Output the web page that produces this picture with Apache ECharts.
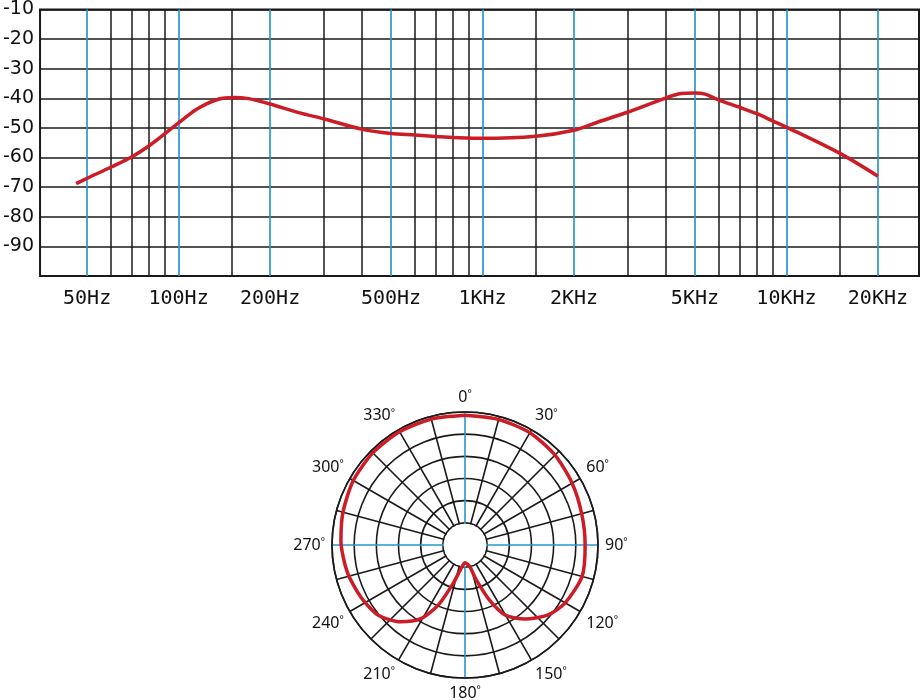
<!DOCTYPE html>
<html>
<head>
<meta charset="utf-8">
<script src="https://cdn.jsdelivr.net/npm/echarts@6/dist/echarts.min.js"></script>
<style>
html,body{margin:0;padding:0;background:#fff;}
#chart{width:921px;height:700px;}
</style>
</head>
<body>
<div id="chart"></div>
<script>
// ---- Frequency response data ----
var freqHz = [46, 50, 60, 70, 80, 90, 100, 115, 135, 152, 170, 200, 250, 300, 400, 500, 600, 700, 800, 1000, 1500, 2000, 2400, 3000, 4000, 4500, 5000, 5400, 6000, 7000, 8000, 9000, 10000, 15000, 20000];
var levelDb = [-68.8, -67.0, -63.2, -59.8, -56.0, -52.0, -48.3, -43.6, -40.3, -39.7, -40.1, -41.9, -44.9, -46.9, -50.4, -51.9, -52.4, -52.9, -53.2, -53.5, -52.8, -50.8, -48.0, -44.7, -39.9, -38.4, -38.2, -38.6, -40.6, -43.0, -45.2, -47.6, -49.7, -58.6, -66.3];

// labelled (blue) grid frequencies and their tick labels
var majorFreqs = [50, 100, 200, 500, 1000, 2000, 5000, 10000, 20000];
var majorLabels = ['50Hz', '100Hz', '200Hz', '500Hz', '1KHz', '2KHz', '5KHz', '10KHz', '20KHz'];
// unlabelled (black) grid frequencies
var minorFreqs = [60, 70, 80, 90, 150, 300, 400, 600, 700, 800, 900, 1500, 3000, 4000, 6000, 7000, 8000, 9000, 15000];

// ---- Polar pattern data ----
var polarAngles = [0, 15, 30, 45, 60, 75, 90, 105, 120, 130, 141, 150, 156, 162, 168, 180, 189, 197, 204, 211, 220, 231, 243, 257, 272, 285, 300, 315, 330, 345, 360];
var polarRadii = [5.85, 5.86, 5.85, 5.74, 5.58, 5.45, 5.42, 5.47, 5.22, 4.9, 4.3, 3.66, 2.72, 1.65, 0.98, 0.8, 1.04, 1.8, 2.97, 3.88, 4.52, 5.03, 5.25, 5.45, 5.6, 5.7, 5.82, 5.88, 5.9, 5.88, 5.85];
var polarRings = 6;      // ring count (ring 1 = edge of the central hole)

var RED = '#cc1c26', BLUE = '#2b96cc', BLACK = '#1a1a1a';

var lineData = freqHz.map(function (f, i) { return [f, levelDb[i]]; });
var polarData = polarAngles.map(function (a, i) { return [polarRadii[i], a]; });

var markData = [];
minorFreqs.forEach(function (f) {
  markData.push({ xAxis: f, lineStyle: { color: BLACK, width: 1.5, type: 'solid' }, label: { show: false } });
});
majorFreqs.forEach(function (f, i) {
  markData.push({
    xAxis: f, name: majorLabels[i],
    lineStyle: { color: BLUE, width: 1.7, type: 'solid' },
    label: { show: true, position: 'start', formatter: '{b}', distance: 13,
      fontFamily: 'DejaVu Sans Mono', fontSize: 20, color: '#111' }
  });
});

var PCX = 465, PCY = 545, PR = 133;
var holeR = PR / polarRings;

var chart = echarts.init(document.getElementById('chart'), null, { renderer: 'canvas' });
chart.setOption({
  animation: false,
  backgroundColor: '#ffffff',
  grid: { left: 39, top: 6, right: 2, height: 270, show: true, borderColor: BLACK, borderWidth: 2, backgroundColor: 'transparent' },
  xAxis: {
    type: 'log', logBase: 10, min: 35, max: 27300,
    axisLine: { show: false }, axisTick: { show: false }, axisLabel: { show: false }, splitLine: { show: false }
  },
  yAxis: {
    type: 'value', min: -100, max: -10, interval: 10,
    axisLine: { show: false }, axisTick: { show: false },
    axisLabel: { formatter: function (v) { return v === -100 ? '' : String(v); }, fontFamily: 'DejaVu Sans', fontSize: 19, color: '#111', margin: 6 },
    splitLine: { show: true, lineStyle: { color: BLACK, width: 1.5 } }
  },
  polar: { center: [PCX, PCY], radius: [0, PR] },
  angleAxis: {
    type: 'value', min: 0, max: 360, interval: 15, startAngle: 90, clockwise: true, z: 0,
    axisLine: { show: true, lineStyle: { color: BLACK, width: 1.6 } },
    axisTick: { show: false },
    axisLabel: {
      margin: 7, color: '#111',
      formatter: function (v) { return (v % 30 === 0 && v < 360) ? '{n|' + v + '}{d|°}' : ''; },
      rich: { n: { fontFamily: 'Noto Sans', fontSize: 16, color: '#111' }, d: { fontFamily: 'Noto Sans', fontSize: 10, verticalAlign: 'top', color: '#111' } }
    },
    splitLine: { show: true, lineStyle: { color: [BLUE, BLACK, BLACK, BLACK, BLACK, BLACK], width: 1.6 } }
  },
  radiusAxis: {
    type: 'value', min: 0, max: polarRings, interval: 1, z: 0,
    axisLine: { show: false }, axisTick: { show: false }, axisLabel: { show: false },
    splitLine: { show: true, lineStyle: { color: BLACK, width: 1.6 } }
  },
  graphic: [
    // blank centre hole of the polar grid
    { type: 'circle', z: 1, silent: true, shape: { cx: PCX, cy: PCY, r: holeR - 0.9 }, style: { fill: '#ffffff' } }
  ],
  series: [
    {
      type: 'line', data: lineData, smooth: 0.3, showSymbol: false, z: 3,
      lineStyle: { color: RED, width: 3.5 },
      markLine: { silent: true, z: 1, symbol: ['none', 'none'], animation: false, data: markData }
    },
    {
      type: 'line', coordinateSystem: 'polar', data: polarData, smooth: 0.25, showSymbol: false, clip: false, z: 3,
      lineStyle: { color: RED, width: 3.5 }
    }
  ]
});
</script>
</body>
</html>
